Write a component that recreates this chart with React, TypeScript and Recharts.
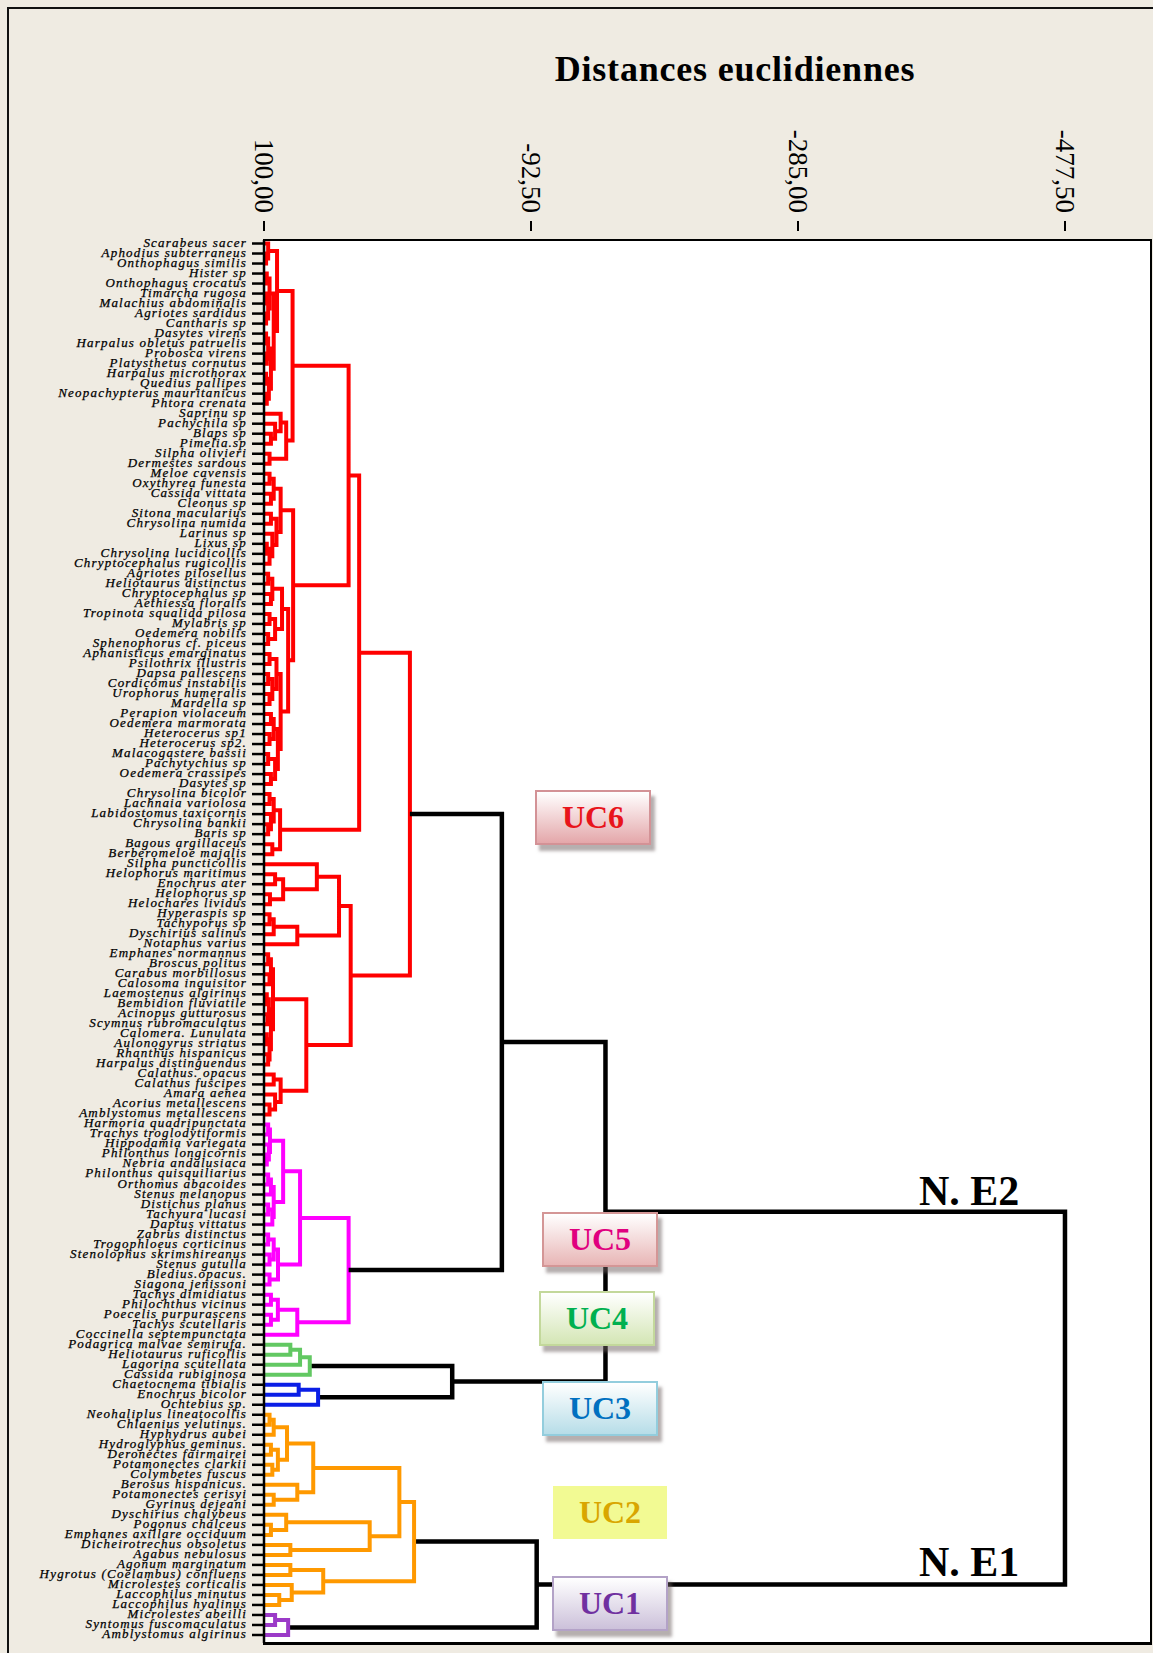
import React from "react";
import { ComposedChart, Line, XAxis, YAxis } from "recharts";

const W = 1153;
const H = 1653;
const BEIGE = "#efebe2";
const SERIF = "'Liberation Serif', 'Times New Roman', Times, serif";

// species, top to bottom, grouped by cluster
const uc6Species = [
  "Scarabeus sacer", "Aphodius subterraneus", "Onthophagus similis", "Hister sp", "Onthophagus crocatus",
  "Timarcha rugosa", "Malachius abdominalis", "Agriotes sardidus", "Cantharis sp", "Dasytes virens",
  "Harpalus obletus patruelis", "Probosca virens", "Platysthetus cornutus", "Harpalus microthorax",
  "Quedius pallipes", "Neopachypterus mauritanicus", "Phtora crenata", "Saprinu sp", "Pachychila sp",
  "Blaps sp", "Pimelia.sp", "Silpha olivieri", "Dermestes sardous", "Meloe cavensis", "Oxythyrea funesta",
  "Cassida vittata", "Cleonus sp", "Sitona macularius", "Chrysolina numida", "Larinus sp", "Lixus sp",
  "Chrysolina lucidicollis", "Chryptocephalus rugicollis", "Agriotes pilosellus", "Heliotaurus distinctus",
  "Chryptocephalus sp", "Aethiessa floralis", "Tropinota squalida pilosa", "Mylabris sp", "Oedemera nobilis",
  "Sphenophorus cf. piceus", "Aphanisticus emarginatus", "Psilothrix illustris", "Dapsa pallescens",
  "Cordicomus instabilis", "Urophorus humeralis", "Mardella sp", "Perapion violaceum", "Oedemera marmorata",
  "Heterocerus sp1", "Heterocerus sp2.", "Malacogastere bassii", "Pachytychius sp", "Oedemera crassipes",
  "Dasytes sp", "Chrysolina bicolor", "Lachnaia variolosa", "Labidostomus taxicornis", "Chrysolina bankii",
  "Baris sp", "Bagous argillaceus", "Berberomeloe majalis", "Silpha puncticollis", "Helophorus maritimus",
  "Enochrus ater", "Helophorus sp", "Helochares lividus", "Hyperaspis sp", "Tachyporus sp",
  "Dyschirius salinus", "Notaphus varius", "Emphanes normannus", "Broscus politus", "Carabus morbillosus",
  "Calosoma inquisitor", "Laemostenus algirinus", "Bembidion fluviatile", "Acinopus gutturosus",
  "Scymnus rubromaculatus", "Calomera. Lunulata", "Aulonogyrus striatus", "Rhanthus hispanicus",
  "Harpalus distinguendus", "Calathus. opacus", "Calathus fuscipes", "Amara aenea", "Acorius metallescens",
  "Amblystomus metallescens",
];
const uc5Species = [
  "Harmoria quadripunctata", "Trachys troglodytiformis", "Hippodamia variegata", "Philonthus longicornis",
  "Nebria andalusiaca", "Philonthus quisquiliarius", "Orthomus abacoides", "Stenus melanopus",
  "Distichus planus", "Tachyura lucasi", "Daptus vittatus", "Zabrus distinctus", "Trogophloeus corticinus",
  "Stenolophus skrimshireanus", "Stenus gutulla", "Bledius.opacus.", "Siagona jenissoni",
  "Tachys dimidiatus", "Philochthus vicinus", "Poecelis purpurascens", "Tachys scutellaris",
  "Coccinella septempunctata",
];
const uc4Species = ["Podagrica malvae semirufa.", "Heliotaurus ruficollis", "Lagorina scutellata", "Cassida rubiginosa"];
const uc3Species = ["Chaetocnema tibialis", "Enochrus bicolor", "Ochtebius sp."];
const uc2Species = [
  "Neohaliplus lineatocollis", "Chlaenius velutinus.", "Hyphydrus aubei", "Hydroglyphus geminus.",
  "Deronectes fairmairei", "Potamonectes clarkii", "Colymbetes fuscus", "Berosus hispanicus.",
  "Potamonectes cerisyi", "Gyrinus dejeani", "Dyschirius chalybeus", "Pogonus chalceus",
  "Emphanes axillare occiduum", "Dicheirotrechus obsoletus", "Agabus nebulosus", "Agonum marginatum",
  "Hygrotus (Coelambus) confluens", "Microlestes corticalis", "Laccophilus minutus", "Laccophilus hyalinus",
];
const uc1Species = ["Microlestes abeilli", "Syntomus fuscomaculatus", "Amblystomus algirinus"];

const species = [...uc6Species, ...uc5Species, ...uc4Species, ...uc3Species, ...uc2Species, ...uc1Species];
const leafIndex = species.map((_, i) => i);

const distanceTicks = [100, -92.5, -285, -477.5];

// merges: [height, left, right], numbers are indices into species
type Tree = number | string | [number, Tree, Tree];

const uc6Tree: Tree = [-5.2,
  [31.4,
    [39.0,
      [79.4,
        [90.6, [97, 0, [98.5, 1, 2]], [93, [96, [98, 3, 4], [97, [98.5, 5, 6], [98.5, 7, 8]]], [95, [97, [98.5, 9, 10], [98, 11, 12]], [96.5, [98.5, 13, 14], [98, 15, 16]]]]],
        [84, [88, 17, [92, 18, [95, 19, 20]]], [96, 21, 22]]],
      [79.0,
        [88, [93, [96, 23, 24], [95, 25, 26]], [91, [95, 27, 28], [94, 29, [96, [98, 30, 31], 32]]]],
        [82.6, [87, [94, [97, 33, 34], [95, 35, 36]], [92, [96, 37, 38], [97, 39, 40]]],
          [88, [91, [96, 41, 42], [94, [97, 43, 44], [96, 45, 46]]], [90, [93, [95, 47, 48], [96, 49, 50]], [92, [97, 51, 52], [95, 53, 54]]]]]]],
    [88.4, [93, [96, 55, 56], [95, 57, [97, 58, 59]]], [94, 60, 61]]],
  [37.5,
    [45.9, [61.9, 62, [86.2, [92, 63, 64], [95.7, 65, 66]]], [76, [93, [96, 67, 68], 69], 70]],
    [69.5, [93.5, [95, [97, 71, 72], [96, 73, 74]], [95, [96.5, [98, 75, 76], [97.5, 77, 78]], [96, [98, 79, 80], [97, 81, 82]]]],
      [88, [93, 83, 84], [92, 85, [96, 86, 87]]]]]];

const uc5Tree: Tree = [39.0,
  [74,
    [86.2, [95.7, [97, 88, 89], [96.5, 90, [98, 91, 92]]], [93, [95, [97, 93, 94], 95], [94, [97, 96, 97], 98]]],
    [89.9, [93, [97, 99, 100], [96, 101, 102]], [96, 103, 104]]],
  [76, [90, [95, 105, 106], [95, 107, 108]], 109]];

const uc4Tree: Tree = [67, [74, [81, 110, 111], 112], 113];
const uc3Tree: Tree = [61, [75, 114, 115], 116];

const uc2Tree: Tree = [-8.2,
  [2.4,
    [64.5, [83.4, [93, [96, 117, 118], 119], [90, [95, 120, 121], [94, 122, 123]]], [76, 124, [93, 125, 126]]],
    [23.8, [84, 127, [95, 128, 129]], [81, 130, 131]]],
  [57.3, [81, 132, 133], [80, 134, [89, 135, 136]]]];

const uc1Tree: Tree = [82.6, [92, 137, 138], 139];

const topTree: Tree = [-477.5, [-146.2, [-71.5, "uc6", "uc5"], [-35.7, "uc4", "uc3"]], [-96.6, "uc2", "uc1"]];

const clusterTrees: Record<string, Tree> = { uc6: uc6Tree, uc5: uc5Tree, uc4: uc4Tree, uc3: uc3Tree, uc2: uc2Tree, uc1: uc1Tree };
const clusterColors: Record<string, string> = {
  uc6: "#ff0000", uc5: "#ff00ff", uc4: "#62c862", uc3: "#0a1ee6", uc2: "#ff9900", uc1: "#9b3ac8",
};

type Pt = { x: number; y: number | null };

// each merge becomes a bracket: child -> height -> other child, null breaks the line
function buildSegments(): [string, Pt[]][] {
  const byColor: Record<string, Pt[]> = {};
  const walk = (node: Tree, color: string): { x: number; y: number } => {
    if (typeof node === "number") return { x: 100, y: node };
    if (typeof node === "string") return walk(clusterTrees[node], clusterColors[node]);
    const [h, a, b] = node;
    const pa = walk(a, color);
    const pb = walk(b, color);
    if (!byColor[color]) byColor[color] = [];
    byColor[color].push(
      { x: pa.x, y: pa.y }, { x: h, y: pa.y }, { x: h, y: pb.y }, { x: pb.x, y: pb.y }, { x: h, y: null }
    );
    return { x: h, y: (pa.y + pb.y) / 2 };
  };
  walk(topTree, "#000000");
  return Object.entries(byColor);
}

const series = buildSegments();

const DistTick = ({ x, y, payload }: any) => {
  const label = Number(payload.value).toFixed(2).replace(".", ",");
  return (
    <g>
      <text
        transform={`translate(${x},${y - 27}) rotate(90)`}
        textAnchor="end"
        dominantBaseline="central"
        fontFamily={SERIF}
        fontSize={27}
        fill="#000"
      >
        {label}
      </text>
      <line x1={x} x2={x} y1={y - 19} y2={y - 9} stroke="#000" strokeWidth={2} />
    </g>
  );
};

const LeafTick = ({ x, y, payload }: any) => (
  <text
    x={x}
    y={y + 3}
    textAnchor="end"
    fontFamily={SERIF}
    fontStyle="italic"
    fontSize={13}
    letterSpacing={1.2}
    fill="#000"
    stroke="#000"
    strokeWidth={0.25}
  >
    {species[payload.value]}
  </text>
);

const boxes = [
  { label: "UC6", left: 535, top: 790, color: "#e8141b", from: "#ffffff", to: "#e4a7aa", border: "#d39296" },
  { label: "UC5", left: 542, top: 1212, color: "#e0007f", from: "#ffffff", to: "#e8b6b6", border: "#d49696" },
  { label: "UC4", left: 539, top: 1291, color: "#00b050", from: "#ffffff", to: "#d4e6b5", border: "#c3d89b" },
  { label: "UC3", left: 542, top: 1381, color: "#0070c0", from: "#ffffff", to: "#b7dde8", border: "#93cddd" },
  { label: "UC1", left: 552, top: 1576, color: "#7030a0", from: "#ffffff", to: "#ccc1da", border: "#b3a2c7" },
];

export default function App() {
  return (
    <div style={{ position: "relative", width: W, height: H, background: BEIGE, overflow: "hidden" }}>
      <style>{"html,body{margin:0;padding:0;overflow:hidden;}"}</style>
      <div
        style={{
          position: "absolute", left: 7, top: 7, width: W, height: H,
          borderTop: "2px solid #111", borderLeft: "2px solid #111",
        }}
      />
      <div
        style={{
          position: "absolute", left: 263, top: 239, width: 889, height: 1406,
          boxSizing: "border-box", border: "2.5px solid #000", borderBottomWidth: 3, background: "#fff",
        }}
      />
      <div
        style={{
          position: "absolute", left: 735, top: 51, transform: "translateX(-50%)", whiteSpace: "nowrap",
          fontFamily: SERIF, fontWeight: "bold", fontSize: 36, lineHeight: 1, letterSpacing: 0.8, color: "#000",
        }}
      >
        Distances euclidiennes
      </div>
      <div style={{ position: "absolute", left: 0, top: 0 }}>
        <ComposedChart width={W} height={H} margin={{ top: 200, right: 3, bottom: 10, left: 164 }}>
          <XAxis
            xAxisId={0}
            type="number"
            dataKey="x"
            orientation="top"
            domain={[-538.8, 100]}
            reversed
            allowDataOverflow
            ticks={distanceTicks}
            interval={0}
            height={40}
            axisLine={false}
            tickLine={false}
            tickSize={0}
            tickMargin={0}
            tick={<DistTick />}
          />
          <YAxis
            yAxisId={0}
            type="number"
            domain={[-0.35, 139.8]}
            reversed
            allowDataOverflow
            ticks={leafIndex}
            interval={0}
            width={100}
            axisLine={{ stroke: "#000", strokeWidth: 2.5 }}
            tickLine={{ stroke: "#000", strokeWidth: 2.5 }}
            tickSize={12}
            tickMargin={5}
            tick={<LeafTick />}
          />
          {series.map(([color, pts]) => (
            <Line
              key={color}
              data={pts}
              dataKey="y"
              type="linear"
              stroke={color}
              strokeWidth={color === "#000000" ? 4.5 : 4}
              strokeLinejoin="miter"
              dot={false}
              activeDot={false}
              connectNulls={false}
              isAnimationActive={false}
            />
          ))}
        </ComposedChart>
      </div>
      {boxes.map((b) => (
        <div
          key={b.label}
          style={{
            position: "absolute", left: b.left, top: b.top, width: 116, height: 55, boxSizing: "border-box",
            background: `linear-gradient(to bottom, ${b.from} 0%, ${b.to} 100%)`, border: `2px solid ${b.border}`,
            boxShadow: "4px 6px 3px rgba(110,95,95,0.5)", display: "flex", alignItems: "center",
            justifyContent: "center", fontFamily: SERIF, fontWeight: "bold", fontSize: 32, color: b.color,
          }}
        >
          {b.label}
        </div>
      ))}
      <div
        style={{
          position: "absolute", left: 553, top: 1486, width: 114, height: 53, background: "#f2fa93",
          display: "flex", alignItems: "center", justifyContent: "center",
          fontFamily: SERIF, fontWeight: "bold", fontSize: 32, color: "#d9a600",
        }}
      >
        UC2
      </div>
      <div style={{ position: "absolute", left: 919, top: 1170, fontFamily: SERIF, fontWeight: "bold", fontSize: 42, lineHeight: 1, whiteSpace: "nowrap" }}>
        N. E2
      </div>
      <div style={{ position: "absolute", left: 919, top: 1541, fontFamily: SERIF, fontWeight: "bold", fontSize: 42, lineHeight: 1, whiteSpace: "nowrap" }}>
        N. E1
      </div>
    </div>
  );
}
